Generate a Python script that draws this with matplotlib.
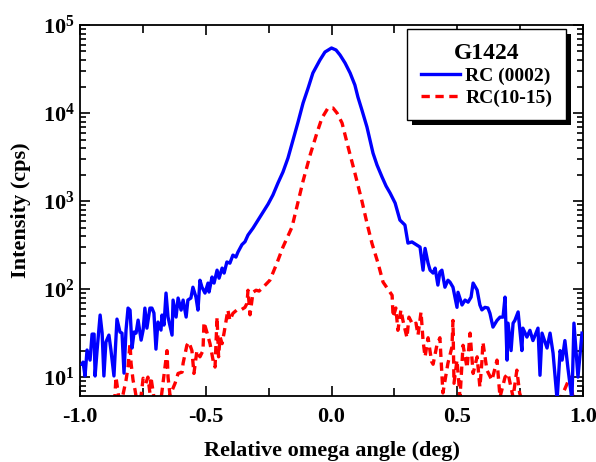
import matplotlib
matplotlib.use("Agg")
import matplotlib.pyplot as plt
from matplotlib.ticker import FixedLocator, FuncFormatter, LogLocator, NullFormatter, MultipleLocator
from matplotlib.patches import Rectangle
import numpy as np

plt.rcParams['font.family'] = ['Liberation Serif', 'DejaVu Serif']
plt.rcParams['font.weight'] = 'bold'
plt.rcParams['mathtext.fontset'] = 'custom'
plt.rcParams['mathtext.rm'] = 'Liberation Serif:bold'
plt.rcParams['mathtext.bf'] = 'Liberation Serif:bold'
plt.rcParams['lines.scale_dashes'] = False

# ---- data ----
blue_x = [-0.992, -0.988, -0.980, -0.972, -0.960, -0.952, -0.944, -0.940, -0.932, -0.920,
          -0.912, -0.905, -0.897, -0.885, -0.877, -0.865, -0.853, -0.841, -0.833, -0.825,
          -0.817, -0.809, -0.801, -0.793, -0.785, -0.777, -0.769, -0.757, -0.749, -0.742,
          -0.734, -0.722, -0.714, -0.706, -0.698, -0.690, -0.678, -0.674, -0.666, -0.658,
          -0.650, -0.634, -0.630, -0.618, -0.610, -0.598, -0.590, -0.578, -0.571, -0.559,
          -0.551, -0.539, -0.531, -0.523, -0.515, -0.503, -0.491, -0.487, -0.475, -0.467,
          -0.455, -0.447, -0.435, -0.427, -0.416, -0.404, -0.392, -0.380, -0.372, -0.356,
          -0.344, -0.332, -0.312, -0.292, -0.272, -0.252, -0.233, -0.213, -0.193, -0.173,
          -0.153, -0.133, -0.113, -0.093, -0.074, -0.046, -0.026, 0.000, 0.018, 0.034,
          0.054, 0.074, 0.093, 0.105, 0.121, 0.141, 0.153, 0.165, 0.181, 0.201,
          0.217, 0.233, 0.253, 0.264, 0.272, 0.292, 0.304, 0.320, 0.340, 0.352,
          0.364, 0.372, 0.384, 0.392, 0.404, 0.412, 0.423, 0.431, 0.439, 0.451,
          0.463, 0.471, 0.483, 0.499, 0.503, 0.519, 0.531, 0.543, 0.555, 0.563,
          0.579, 0.590, 0.598, 0.610, 0.622, 0.630, 0.642, 0.658, 0.670, 0.682,
          0.690, 0.698, 0.702, 0.714, 0.722, 0.729, 0.742, 0.757, 0.761, 0.777,
          0.789, 0.801, 0.821, 0.829, 0.837, 0.857, 0.869, 0.881, 0.897, 0.909,
          0.917, 0.928, 0.940, 0.956, 0.964, 0.980, 0.996]
blue_y = [14.0, 14.8, 10.3, 20.3, 15.6, 30.8, 30.8, 10.3, 20.3, 50.7,
          31.6, 10.3, 25.0, 30.0, 20.3, 10.3, 45.6, 32.5, 31.6, 11.1,
          34.2, 60.8, 57.7, 21.4, 32.5, 31.6, 44.4, 26.3, 34.2, 60.8,
          36.0, 60.8, 60.8, 53.4, 20.8, 42.2, 34.2, 50.7, 39.0, 90.1,
          48.1, 30.0, 75.0, 48.1, 79.1, 57.7, 75.0, 48.1, 75.0, 79.1,
          105, 81.1, 57.7, 126, 105, 90.1, 117, 92.5, 137, 117,
          164, 133, 173, 152, 203, 197, 243, 231, 263, 320,
          345, 411, 493, 608, 750, 925, 1170, 1600, 2137, 3083,
          4934, 7900, 13000, 19200, 28500, 40000, 49300, 54800, 52000, 45600,
          37000, 28500, 20800, 15200, 10800, 6934, 4934, 3508, 2565, 1874,
          1480, 1233, 949, 731, 608, 534, 333, 343, 316, 300,
          164, 290, 197, 164, 152, 173, 111, 156, 164, 105,
          126, 120, 105, 62, 92, 66, 75, 71, 81, 117,
          97.5, 66, 58, 62, 61, 53, 37, 44, 48, 48,
          81, 15.6, 41, 20, 41, 44, 55, 20, 36, 28.5,
          34, 26, 36, 10.5, 31.6, 21.4, 31.6, 18.7, 5.5, 20,
          15.6, 26, 12.7, 5.5, 41, 10, 31.6]

red_x = [-1.000, -0.950, -0.900, -0.870, -0.861, -0.857, -0.840, -0.817, -0.809, -0.801,
         -0.797, -0.789, -0.781, -0.770, -0.757, -0.749, -0.738, -0.730, -0.722, -0.718,
         -0.700, -0.680, -0.662, -0.654, -0.650, -0.642, -0.630, -0.622, -0.610, -0.594,
         -0.590, -0.575, -0.567, -0.555, -0.547, -0.535, -0.523, -0.511, -0.507, -0.495,
         -0.483, -0.471, -0.463, -0.455, -0.449, -0.443, -0.435, -0.427, -0.412, -0.404,
         -0.392, -0.376, -0.360, -0.344, -0.336, -0.332, -0.324, -0.312, -0.300, -0.288,
         -0.276, -0.265, -0.245, -0.217, -0.193, -0.173, -0.157, -0.133, -0.113, -0.085,
         -0.058, -0.038, -0.014, 0.006, 0.022, 0.042, 0.066, 0.093, 0.121, 0.141,
         0.161, 0.185, 0.205, 0.221, 0.241, 0.245, 0.256, 0.264, 0.276, 0.284,
         0.300, 0.308, 0.324, 0.336, 0.344, 0.356, 0.364, 0.372, 0.384, 0.398,
         0.404, 0.419, 0.431, 0.439, 0.443, 0.463, 0.479, 0.483, 0.487, 0.499,
         0.511, 0.523, 0.539, 0.551, 0.563, 0.579, 0.590, 0.598, 0.602, 0.618,
         0.638, 0.658, 0.670, 0.690, 0.702, 0.722, 0.737, 0.748, 0.769, 0.809,
         0.857, 0.889, 0.909, 0.948, 0.960, 0.988]
red_y = [3.5, 4.0, 3.8, 4.5, 6.2, 10, 4.5, 9.2, 13, 24.3,
         14.4, 9.2, 7.1, 4.5, 6.2, 9.7, 8.5, 10, 6.6, 10,
         4.5, 5.0, 13, 20, 10, 6.2, 7.5, 8.5, 11, 11.4,
         14.4, 23, 25, 20, 11, 20, 17, 20, 42, 32,
         24, 15.6, 13, 48, 17, 28.5, 24, 32, 58, 44,
         53, 58, 58, 62, 69, 97, 51, 92, 97, 95,
         102, 110, 126, 197, 300, 400, 507, 975, 1690, 3335,
         5930, 8770, 11400, 11400, 10000, 7700, 4110, 2081, 1000, 562,
         330, 197, 120, 103, 85, 48, 61, 34, 58, 44,
         28, 48, 39, 41, 30, 55, 26, 17, 28, 15,
         14, 23, 28, 11, 6.6, 14.4, 22, 44, 8.5, 15.6,
         5.9, 23, 12.7, 31.6, 11, 17, 7.7, 14.8, 25, 12,
         9.2, 15.6, 5.9, 10, 11, 5.9, 12, 6.6, 4.2, 4.8,
         5.9, 4.2, 5.5, 10, 5.9, 4.2]

sample_name = "G1424"
series_labels = ["RC (0002)", "RC(10-15)"]
x_ticks = [-1.0, -0.5, 0.0, 0.5, 1.0]
x_tick_labels = ["-1.0", "-0.5", "0.0", "0.5", "1.0"]

# ---- figure ----
fig = plt.figure(figsize=(5.96, 4.62), dpi=100)
ax = fig.add_axes([80/596, 66/462, 503/596, 371/462])

l1, = ax.plot(blue_x, blue_y, color='#0000FF', lw=2.4, zorder=3)
l2, = ax.plot(red_x, red_y, color='#FF0000', lw=2.4, dashes=(6, 4), zorder=2)

ax.set_yscale('log')
ax.set_xlim(-1.0, 1.0)
ax.set_ylim(6.1, 1e5)

ax.xaxis.set_major_locator(FixedLocator(x_ticks))
ax.set_xticklabels(x_tick_labels)
ax.xaxis.set_minor_locator(MultipleLocator(0.25))
ax.yaxis.set_major_locator(LogLocator(base=10, numticks=10))
ax.yaxis.set_minor_locator(LogLocator(base=10, subs=np.arange(2, 10), numticks=20))
ax.yaxis.set_minor_formatter(NullFormatter())
ax.yaxis.set_major_formatter(FuncFormatter(lambda v, p: r'$\mathbf{10^{%d}}$' % int(round(np.log10(v)))))

ax.tick_params(which='both', direction='in', top=True, right=True, width=1.2, labelsize=16, pad=8)
ax.tick_params(axis='y', which='both', pad=4)
ax.tick_params(which='major', length=7)
ax.tick_params(which='minor', length=4)
ax.tick_params(axis='x', which='minor', length=6)
for s in ax.spines.values():
    s.set_linewidth(1.3)
for lab in ax.get_xticklabels() + ax.get_yticklabels():
    lab.set_fontweight('bold')

ax.set_xlabel("Relative omega angle (deg)", fontsize=16, fontweight='bold', labelpad=10)
ax.set_ylabel("Intensity (cps)", fontsize=16, fontweight='bold', labelpad=8)

leg = fig.legend([l1, l2], series_labels, loc='upper right',
                 bbox_to_anchor=(566/596, (462-29)/462),
                 fontsize=14, title=sample_name,
                 title_fontproperties={'size': 17, 'weight': 'bold'},
                 frameon=True, fancybox=False, edgecolor='black', framealpha=1,
                 handlelength=2.0, handletextpad=0.3, borderpad=0.7, labelspacing=0.2,
                 borderaxespad=0)
leg.get_frame().set_linewidth(1.0)
leg.set_zorder(6)
for t in leg.get_texts():
    t.set_fontweight('bold')

fig.canvas.draw()
bb = leg.get_window_extent()
shadow = Rectangle((bb.x0 + 5, bb.y0 - 5), bb.width, bb.height, transform=None,
                   facecolor='black', edgecolor='none', zorder=4)
fig.add_artist(shadow)

fig.savefig("out.png", dpi=100)
